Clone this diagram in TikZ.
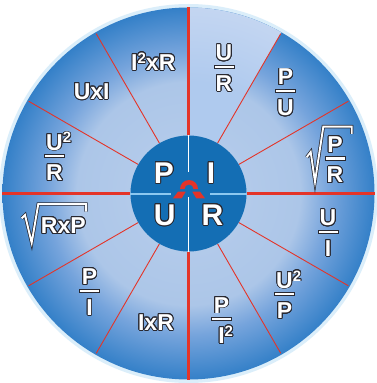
\documentclass[tikz,border=0pt]{standalone}
\usepackage{fontspec}
\setmainfont{Liberation Sans}
\usepackage{contour}
\contourlength{0.9pt}
\contournumber{20}
\definecolor{olc}{RGB}{40,40,48}
\definecolor{redl}{RGB}{228,52,40}
\definecolor{innerblue}{RGB}{20,110,180}
\definecolor{crossblue}{RGB}{140,200,240}
\definecolor{glowc}{RGB}{195,228,248}
\definecolor{w0}{RGB}{185,206,236}
\definecolor{w1}{RGB}{172,198,232}
\definecolor{w2}{RGB}{118,164,220}
\definecolor{w3}{RGB}{52,128,200}
\definecolor{w4}{RGB}{26,108,188}
\definecolor{w5}{RGB}{20,96,176}
\definecolor{w6}{RGB}{14,74,146}
\definecolor{w7}{RGB}{10,55,115}
\definecolor{h0}{RGB}{175,202,238}
\definecolor{h1}{RGB}{210,222,244}
\definecolor{h2}{RGB}{240,241,251}
\pgfdeclareradialshading{wheel}{\pgfpoint{0bp}{0bp}}{color(0bp)=(w0); color(15bp)=(w1); color(19bp)=(w2); color(25bp)=(w3); color(35bp)=(w4); color(45bp)=(w5); color(49bp)=(w6); color(50bp)=(w7); color(72bp)=(w7)}
\pgfdeclareradialshading{hilite}{\pgfpoint{0bp}{0bp}}{color(0bp)=(h0); color(15bp)=(h0); color(32bp)=(h1); color(46bp)=(h2); color(50bp)=(h2); color(72bp)=(h2)}
\newcommand\ol[1]{\contour{olc}{#1}}
\newcommand\suptwo{\rlap{\raisebox{7pt}{\fontsize{15}{15}\selectfont 2}}}
\newcommand\suptwoin{\raisebox{7pt}{\fontsize{15}{15}\selectfont 2}}
\newcommand\frc[5]{%
  \node[lbl,anchor=base] (#1n) at (#2,#3+6) {\ol{#4}};
  \node[lbl,anchor=base] (#1d) at (#2,#3-24.5) {\ol{#5}};
  \node[barst] (#1b) at (#2,#3) {};}
\begin{document}
\begin{tikzpicture}[x=1pt,y=1pt,
  lbl/.style={font=\bfseries\fontsize{23}{23}\selectfont, text=white, inner sep=0pt},
  big/.style={font=\bfseries\fontsize{30}{30}\selectfont, text=white, inner sep=0pt},
  barst/.style={draw=olc, fill=white, line width=0.8pt, minimum width=20pt, minimum height=3.4pt, inner sep=0pt},
  redthick/.style={draw=redl, line width=2.2pt},
  redthin/.style={draw=redl, line width=0.9pt},
  sqdark/.style={draw=olc, line width=3.4pt, line join=miter},
  sqwhite/.style={draw=white, line width=1.9pt, line join=miter}]
\useasboundingbox (-188.5,-189.5) rectangle (187.5,193.5);
\fill[white] (-188.5,-189.5) rectangle (187.5,193.5);
\draw[glowc, line width=4pt, opacity=0.6] (0,0) circle (187.5);
\shade[shading=wheel] (0,0) circle (186);
\begin{scope}
  \clip (0,0) -- (90:186) arc (90:60:186) -- cycle;
  \shade[shading=hilite] (0,0) circle (186);
\end{scope}
\foreach \a in {0,90,180,270} \draw[redthick] (\a:58) -- (\a:186);
\foreach \a in {30,60,120,150,210,240,300,330} \draw[redthin] (\a:58) -- (\a:184.5);
% inner disc
\fill[innerblue] (0,0) circle (58);
\draw[white, line width=0.9pt] (0,58) -- (0,21.5);
\draw[white, line width=0.9pt] (0,-3.5) -- (0,-58);
\draw[crossblue, line width=1.8pt] (-58,-0.8) -- (-17,-0.8);
\draw[crossblue, line width=1.8pt] (21.5,-0.8) -- (58,-0.8);
\fill[redl] (9.5,4.5) arc (0:180:9) -- (-4,4.5) arc (180:0:4.5) -- cycle;
\fill[redl] (-10.5,1.8) -- (-2.8,1.8) -- (-6.8,-4.8) -- (-15.5,-4.8) -- cycle;
\fill[redl] (3.8,1.8) -- (11.5,1.8) -- (16.5,-4.8) -- (7.8,-4.8) -- cycle;
\node[big,anchor=base] (P) at (-24.5,10.25) {\ol{P}};
\node[big,anchor=base] (I) at (22.5,10.25) {\ol{I}};
\node[big,anchor=base] (U) at (-23.8,-31.75) {\ol{U}};
\node[big,anchor=base] (R) at (24,-31.75) {\ol{R}};
% fractions
\frc{ur}{35.5}{126.8}{U}{R}
\frc{pu}{97}{102.5}{P}{U}
\frc{pr}{146.5}{35.2}{P}{R}
\frc{ui}{139.5}{-38.2}{U}{I}
\frc{up}{96}{-100.5}{U\suptwo}{P}
\frc{pii}{33}{-125.5}{P}{I\suptwo}
\frc{pi}{-99}{-97.2}{P}{I}
\frc{uur}{-134}{37.5}{U\suptwo}{R}
% square roots
\draw[sqdark] (118.2,36.2) -- (122.2,41.5) -- (126.5,11.8) -- (134.8,66.8) -- (163.2,66.8) -- (163.2,59.5);
\draw[sqwhite] (118.2,36.2) -- (122.2,41.5) -- (126.5,11.8) -- (134.8,66.8) -- (163.2,66.8) -- (163.2,59.5);
\draw[sqdark] (-166.8,-24.8) -- (-163.5,-21.5) -- (-156.8,-49.2) -- (-150.2,-10.5) -- (-102.5,-10.5) -- (-102.5,-18.2);
\draw[sqwhite] (-166.8,-24.8) -- (-163.5,-21.5) -- (-156.8,-49.2) -- (-150.2,-10.5) -- (-102.5,-10.5) -- (-102.5,-18.2);
\node[lbl,anchor=base] (rxp) at (-125.2,-40) {\ol{RxP}};
% products
\node[lbl,anchor=base] (uxi) at (-96.8,94.3) {\ol{UxI}};
\node[lbl,anchor=base] (iixr) at (-35.2,123.3) {\ol{I\suptwoin xR}};
\node[lbl,anchor=base] (ixr) at (-32.5,-136.7) {\ol{IxR}};
\end{tikzpicture}
\end{document}
